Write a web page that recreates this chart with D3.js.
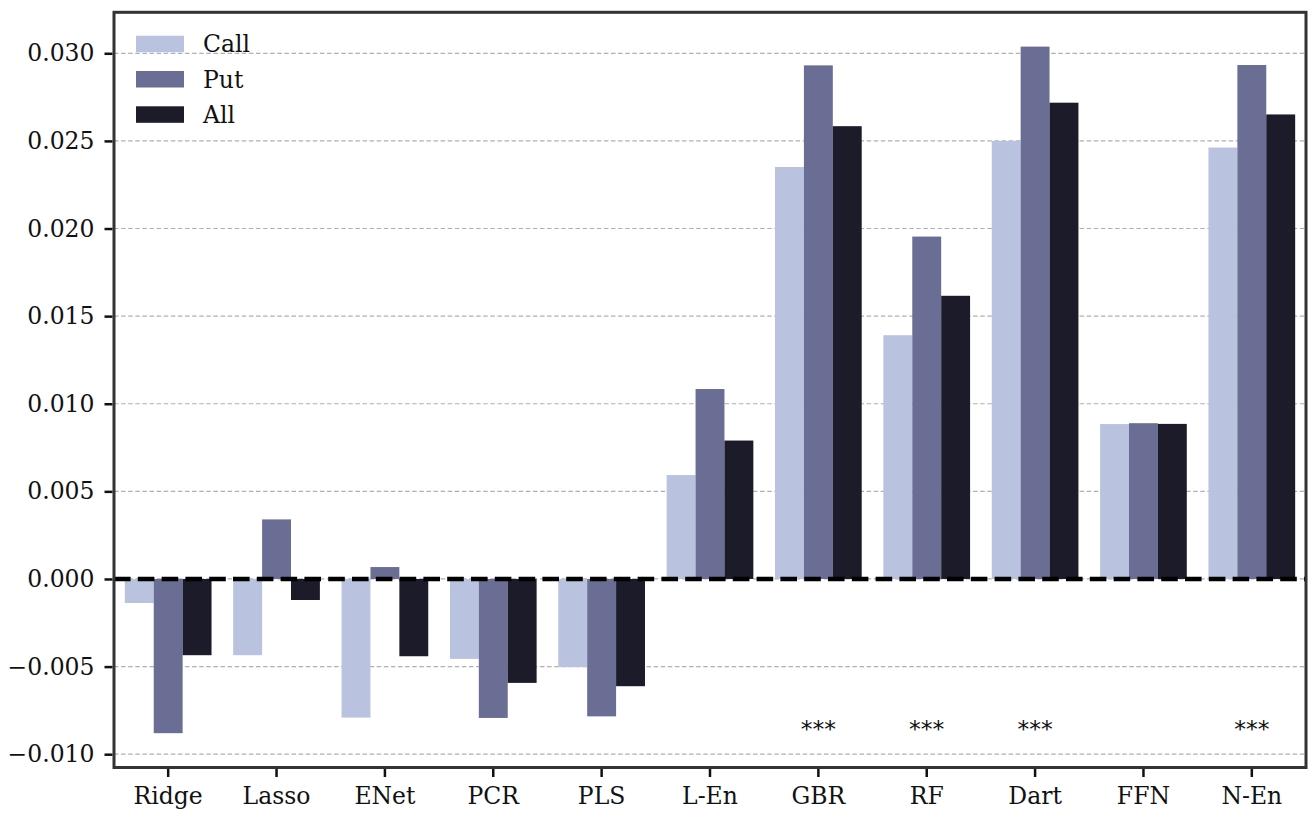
<!DOCTYPE html>
<html>
<head>
<meta charset="utf-8">
<script src="https://cdn.jsdelivr.net/npm/d3@7"></script>
<style>
  body { margin: 0; background: #fff; }
  svg { display: block; }
  text { font-family: "DejaVu Serif", serif; fill: #111; }
</style>
</head>
<body>
<svg width="1314" height="822"></svg>
<script>
// Data
const categories = ["Ridge", "Lasso", "ENet", "PCR", "PLS", "L-En", "GBR", "RF", "Dart", "FFN", "N-En"];
const seriesNames = ["Call", "Put", "All"];
const callValues = [-0.00137, -0.00435, -0.00791, -0.00456, -0.00503, 0.00593, 0.02351, 0.01391, 0.02500, 0.00884, 0.02462];
const putValues = [-0.00880, 0.00340, 0.00068, -0.00793, -0.00784, 0.01084, 0.02931, 0.01954, 0.03038, 0.00889, 0.02933];
const allValues = [-0.00435, -0.00120, -0.00441, -0.00593, -0.00612, 0.00790, 0.02584, 0.01616, 0.02718, 0.00885, 0.02651];
const stars = ["", "", "", "", "", "", "***", "***", "***", "", "***"];
const yTicks = [-0.010, -0.005, 0.000, 0.005, 0.010, 0.015, 0.020, 0.025, 0.030];

const colors = { Call: "#b9c2de", Put: "#6a6d94", All: "#1c1b29" };
const fontSize = "23.5px";

const svg = d3.select("svg");
const plotLeft = 114, plotRight = 1306, plotTop = 12.3, plotBottom = 767.5;

// rows for the grouped bars
const rows = categories.map((c, i) => ({
    cat: c,
    Call: callValues[i],
    Put: putValues[i],
    All: allValues[i],
    star: stars[i]
}));

// x scales
const x = d3.scaleBand()
    .domain(categories)
    .range([plotLeft, plotRight])
    .paddingInner(0.2)
    .paddingOuter(0.1);
const xSub = d3.scaleBand()
    .domain(seriesNames)
    .range([0, x.bandwidth()]);

// y scale with 5% margins like matplotlib
const allVals = callValues.concat(putValues, allValues);
const yMin = d3.min(allVals), yMax = d3.max(allVals);
const pad = (yMax - yMin) * 0.05;
const y = d3.scaleLinear()
    .domain([yMin - pad, yMax + pad])
    .range([plotBottom, plotTop]);

// grid lines
svg.append("g")
    .selectAll("line")
    .data(yTicks)
    .join("line")
    .attr("x1", plotLeft).attr("x2", plotRight)
    .attr("y1", d => y(d)).attr("y2", d => y(d))
    .attr("stroke", "#b0b0b0")
    .attr("stroke-width", 1.2)
    .attr("stroke-dasharray", "4.5,2.6");

// bars
svg.append("g")
    .selectAll("g")
    .data(rows)
    .join("g")
    .attr("transform", d => `translate(${x(d.cat)},0)`)
    .selectAll("rect")
    .data(d => seriesNames.map(s => ({ key: s, value: d[s] })))
    .join("rect")
    .attr("x", d => xSub(d.key))
    .attr("width", xSub.bandwidth())
    .attr("y", d => y(Math.max(0, d.value)))
    .attr("height", d => Math.abs(y(d.value) - y(0)))
    .attr("fill", d => colors[d.key]);

// zero line
svg.append("line")
    .attr("x1", plotLeft).attr("x2", plotRight)
    .attr("y1", y(0)).attr("y2", y(0))
    .attr("stroke", "#000")
    .attr("stroke-width", 4.5)
    .attr("stroke-dasharray", "16.6,7.2");

// significance stars
svg.append("g")
    .selectAll("text")
    .data(rows.filter(d => d.star))
    .join("text")
    .attr("x", d => x(d.cat) + x.bandwidth() / 2)
    .attr("y", y(-0.009))
    .attr("text-anchor", "middle")
    .style("font-family", "'DejaVu Sans', sans-serif")
    .style("font-size", fontSize)
    .text(d => d.star);

// frame
svg.append("rect")
    .attr("x", plotLeft).attr("y", plotTop)
    .attr("width", plotRight - plotLeft).attr("height", plotBottom - plotTop)
    .attr("fill", "none")
    .attr("stroke", "#333")
    .attr("stroke-width", 3);

// y axis
const yAxis = svg.append("g")
    .attr("transform", `translate(${plotLeft - 1.5},0)`)
    .call(d3.axisLeft(y).tickValues(yTicks).tickFormat(d3.format(".3f")).tickSize(8).tickPadding(10));
yAxis.select(".domain").remove();
yAxis.selectAll(".tick line").attr("stroke", "#111").attr("stroke-width", 2.5);
yAxis.selectAll(".tick text")
    .style("font-family", "'DejaVu Serif', serif")
    .style("font-size", fontSize)
    .attr("fill", "#111");

// x axis
const xAxis = svg.append("g")
    .attr("transform", `translate(0,${plotBottom + 1.5})`)
    .call(d3.axisBottom(x).tickSize(8).tickPadding(10));
xAxis.select(".domain").remove();
xAxis.selectAll(".tick line").attr("stroke", "#111").attr("stroke-width", 2.5);
xAxis.selectAll(".tick text")
    .style("font-family", "'DejaVu Serif', serif")
    .style("font-size", fontSize)
    .attr("fill", "#111");

// legend
const legend = svg.append("g")
    .selectAll("g")
    .data(seriesNames)
    .join("g")
    .attr("transform", (d, i) => `translate(136,${35.7 + i * 35.3})`);
legend.append("rect")
    .attr("width", 48).attr("height", 16.5)
    .attr("fill", d => colors[d]);
legend.append("text")
    .attr("x", 67).attr("y", 8.3)
    .attr("dy", "0.35em")
    .style("font-family", "'DejaVu Serif', serif")
    .style("font-size", fontSize)
    .text(d => d);
</script>
</body>
</html>
